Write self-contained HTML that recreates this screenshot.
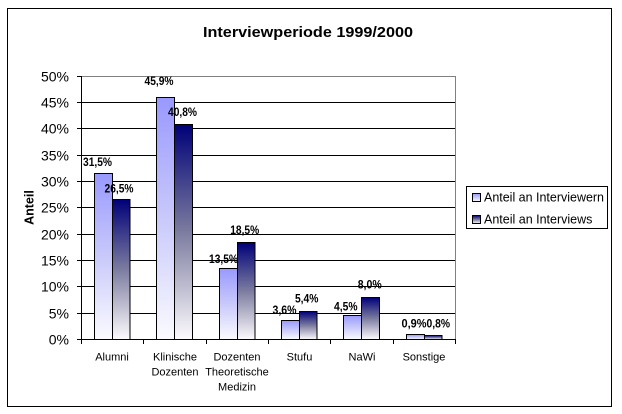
<!DOCTYPE html>
<html><head><meta charset="utf-8"><style>
html,body{margin:0;padding:0;background:#fff;}
svg{display:block;}
text{font-family:"Liberation Sans",Arial,sans-serif;fill:#000;}
.yl{font-size:14px;text-anchor:end;}
.cl{font-size:11px;text-anchor:middle;}
.dl{font-size:11.5px;font-weight:bold;text-anchor:middle;}
</style></head><body>
<svg width="622" height="414" viewBox="0 0 622 414" xmlns="http://www.w3.org/2000/svg">
<defs>
<linearGradient id="g1" x1="0" y1="0" x2="0" y2="1">
<stop offset="0" stop-color="#9999ff"/><stop offset="0.5" stop-color="#c9c9fb"/><stop offset="1" stop-color="#fbfbff"/>
</linearGradient>
<linearGradient id="g2" x1="0" y1="0" x2="0" y2="1">
<stop offset="0" stop-color="#000078"/><stop offset="0.5" stop-color="#7c7ca0"/><stop offset="1" stop-color="#fdfbfd"/>
</linearGradient>
</defs>
<rect x="0" y="0" width="622" height="414" fill="#fff"/>
<rect x="7.5" y="8.5" width="604" height="398" fill="#fff" stroke="#000" stroke-width="1"/>
<text x="308" y="37" font-size="15" font-weight="bold" text-anchor="middle" textLength="210" lengthAdjust="spacingAndGlyphs">Interviewperiode 1999/2000</text>

<!-- gridlines -->
<g stroke="#000" stroke-width="1">
<line x1="81" y1="102.5" x2="455" y2="102.5"/>
<line x1="81" y1="128.5" x2="455" y2="128.5"/>
<line x1="81" y1="155.5" x2="455" y2="155.5"/>
<line x1="81" y1="181.5" x2="455" y2="181.5"/>
<line x1="81" y1="207.5" x2="455" y2="207.5"/>
<line x1="81" y1="234.5" x2="455" y2="234.5"/>
<line x1="81" y1="260.5" x2="455" y2="260.5"/>
<line x1="81" y1="286.5" x2="455" y2="286.5"/>
<line x1="81" y1="313.5" x2="455" y2="313.5"/>
</g>
<line x1="81" y1="76.5" x2="455.5" y2="76.5" stroke="#808080"/>
<line x1="455.5" y1="76" x2="455.5" y2="339.5" stroke="#808080"/>

<!-- bars -->
<g stroke="#000" stroke-width="1">
<rect x="94.5" y="173.5" width="18" height="166" fill="url(#g1)"/>
<rect x="112.5" y="199.5" width="17.5" height="140" fill="url(#g2)"/>
<rect x="156.5" y="97.5" width="18" height="242" fill="url(#g1)"/>
<rect x="174.5" y="124.5" width="18" height="215" fill="url(#g2)"/>
<rect x="219.5" y="268.5" width="18" height="71" fill="url(#g1)"/>
<rect x="237.5" y="242.5" width="17.5" height="97" fill="url(#g2)"/>
<rect x="281.5" y="320.5" width="18" height="19" fill="url(#g1)"/>
<rect x="299.5" y="311.5" width="17.5" height="28" fill="url(#g2)"/>
<rect x="343.5" y="315.5" width="18" height="24" fill="url(#g1)"/>
<rect x="361.5" y="297.5" width="18" height="42" fill="url(#g2)"/>
<rect x="406.5" y="334.5" width="18" height="5" fill="url(#g1)"/>
<rect x="424.5" y="335.5" width="17.5" height="4" fill="url(#g2)"/>
</g>

<!-- axes -->
<g stroke="#000" stroke-width="1">
<line x1="81.5" y1="76" x2="81.5" y2="340"/>
<line x1="81" y1="339.5" x2="456" y2="339.5"/>
<line x1="77" y1="76.5" x2="81" y2="76.5"/>
<line x1="77" y1="102.5" x2="81" y2="102.5"/>
<line x1="77" y1="128.5" x2="81" y2="128.5"/>
<line x1="77" y1="155.5" x2="81" y2="155.5"/>
<line x1="77" y1="181.5" x2="81" y2="181.5"/>
<line x1="77" y1="207.5" x2="81" y2="207.5"/>
<line x1="77" y1="234.5" x2="81" y2="234.5"/>
<line x1="77" y1="260.5" x2="81" y2="260.5"/>
<line x1="77" y1="286.5" x2="81" y2="286.5"/>
<line x1="77" y1="313.5" x2="81" y2="313.5"/>
<line x1="77" y1="339.5" x2="81" y2="339.5"/>
<line x1="81.5" y1="339.5" x2="81.5" y2="344"/>
<line x1="143.5" y1="339.5" x2="143.5" y2="344"/>
<line x1="206.5" y1="339.5" x2="206.5" y2="344"/>
<line x1="268.5" y1="339.5" x2="268.5" y2="344"/>
<line x1="330.5" y1="339.5" x2="330.5" y2="344"/>
<line x1="393.5" y1="339.5" x2="393.5" y2="344"/>
<line x1="455.5" y1="339.5" x2="455.5" y2="344"/>
</g>

<!-- y labels -->
<text class="yl" x="69" y="81.5">50%</text>
<text class="yl" x="69" y="107.5">45%</text>
<text class="yl" x="69" y="133.5">40%</text>
<text class="yl" x="69" y="160.5">35%</text>
<text class="yl" x="69" y="186.5">30%</text>
<text class="yl" x="69" y="212.5">25%</text>
<text class="yl" x="69" y="239.5">20%</text>
<text class="yl" x="69" y="265.5">15%</text>
<text class="yl" x="69" y="291.5">10%</text>
<text class="yl" x="69" y="318.5">5%</text>
<text class="yl" x="69" y="344.5">0%</text>

<text x="0" y="0" font-size="12.5" font-weight="bold" text-anchor="middle" transform="translate(33.5,207.5) rotate(-90)">Anteil</text>

<!-- category labels -->
<text class="cl" x="112" y="360.5">Alumni</text>
<text class="cl" x="175" y="360.5">Klinische</text>
<text class="cl" x="175" y="375.5">Dozenten</text>
<text class="cl" x="237" y="360.5">Dozenten</text>
<text class="cl" x="237" y="375.5">Theoretische</text>
<text class="cl" x="237" y="390.5">Medizin</text>
<text class="cl" x="299.5" y="360.5">Stufu</text>
<text class="cl" x="362" y="360.5">NaWi</text>
<text class="cl" x="424" y="360.5">Sonstige</text>

<!-- data labels -->
<text class="dl" x="97.5" y="166" textLength="29" lengthAdjust="spacingAndGlyphs">31,5%</text>
<text class="dl" x="119" y="192.5" textLength="29" lengthAdjust="spacingAndGlyphs">26,5%</text>
<text class="dl" x="159" y="85" textLength="29" lengthAdjust="spacingAndGlyphs">45,9%</text>
<text class="dl" x="182.5" y="116" textLength="29" lengthAdjust="spacingAndGlyphs">40,8%</text>
<text class="dl" x="223.5" y="263" textLength="29" lengthAdjust="spacingAndGlyphs">13,5%</text>
<text class="dl" x="244.7" y="234" textLength="29" lengthAdjust="spacingAndGlyphs">18,5%</text>
<text class="dl" x="284.5" y="314" textLength="24" lengthAdjust="spacingAndGlyphs">3,6%</text>
<text class="dl" x="306.7" y="302.5" textLength="23.5" lengthAdjust="spacingAndGlyphs">5,4%</text>
<text class="dl" x="345.8" y="310.5" textLength="23.5" lengthAdjust="spacingAndGlyphs">4,5%</text>
<text class="dl" x="369.7" y="288.5" textLength="24" lengthAdjust="spacingAndGlyphs">8,0%</text>
<text class="dl" x="414" y="327.5" textLength="25" lengthAdjust="spacingAndGlyphs">0,9%</text>
<text class="dl" x="438.3" y="327.5" textLength="23.5" lengthAdjust="spacingAndGlyphs">0,8%</text>

<!-- legend -->
<rect x="466.5" y="186.5" width="141" height="42" fill="#fff" stroke="#000" stroke-width="1"/>
<rect x="472.5" y="193.5" width="8" height="8" fill="url(#g1)" stroke="#000" stroke-width="1"/>
<rect x="472.5" y="215.5" width="8" height="8" fill="url(#g2)" stroke="#000" stroke-width="1"/>
<text x="484" y="201.5" font-size="12.5" textLength="120" lengthAdjust="spacingAndGlyphs">Anteil an Interviewern</text>
<text x="484" y="223.5" font-size="12.5">Anteil an Interviews</text>
</svg>
</body></html>
